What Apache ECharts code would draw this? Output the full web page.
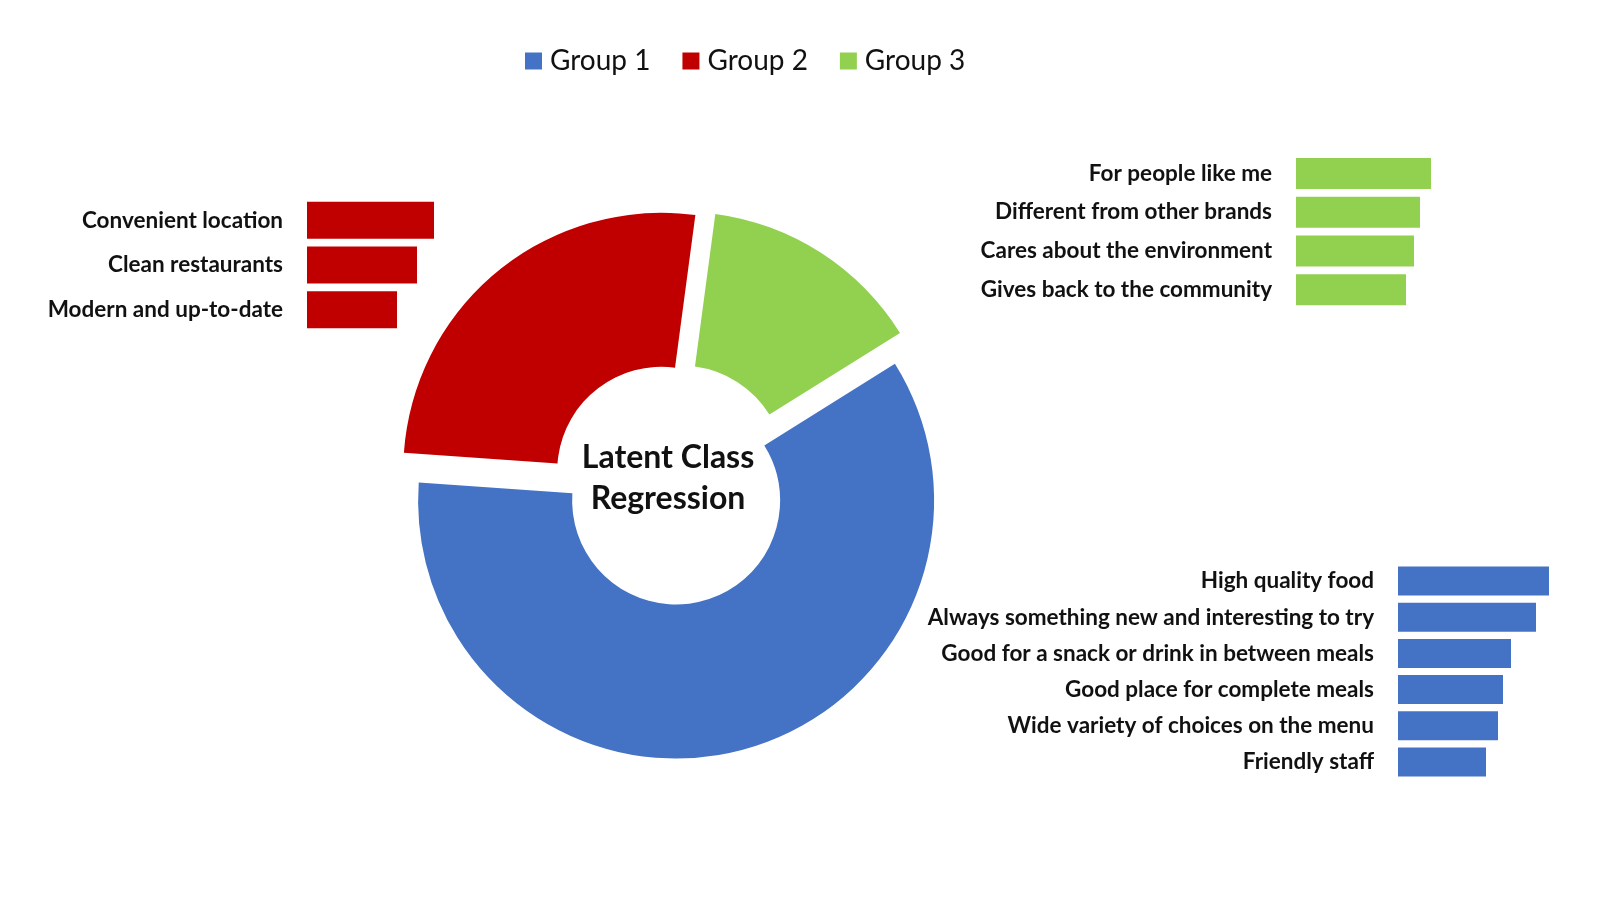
<!DOCTYPE html>
<html>
<head>
<meta charset="utf-8">
<title>Latent Class Regression</title>
<script src="https://cdn.jsdelivr.net/npm/echarts@6/dist/echarts.min.js"></script>
<style>
  html, body { margin: 0; padding: 0; background: #ffffff; }
  #chart { width: 1600px; height: 900px; }
</style>
</head>
<body>
<div id="chart"></div>
<script>
// 세그먼트 비율 (도넛)
var groupNames = ['Group 1', 'Group 2', 'Group 3'];
var groupShares = [60, 26, 14];
var groupColors = ['#4472C4', '#C00000', '#92D050'];

// 그룹별 속성 막대
var group1Items = [
  'High quality food',
  'Always something new and interesting to try',
  'Good for a snack or drink in between meals',
  'Good place for complete meals',
  'Wide variety of choices on the menu',
  'Friendly staff'
];
var group1Values = [15.1, 13.8, 11.3, 10.5, 10.0, 8.8];

var group2Items = ['Convenient location', 'Clean restaurants', 'Modern and up-to-date'];
var group2Values = [12.7, 11.0, 9.0];

var group3Items = [
  'For people like me',
  'Different from other brands',
  'Cares about the environment',
  'Gives back to the community'
];
var group3Values = [13.5, 12.4, 11.8, 11.0];

var labelFont = 'Lato';

var myChart = echarts.init(document.getElementById('chart'));

// 작은 막대차트용 축 생성
var makeXAxis = function(idx) {
  return {
    type: 'value', gridIndex: idx, min: 0, max: 16,
    show: false
  };
};
var makeYAxis = function(idx, items) {
  return {
    type: 'category', gridIndex: idx, data: items, inverse: true,
    axisLine: { show: false },
    axisTick: { show: false },
    splitLine: { show: false },
    axisLabel: {
      margin: 24,
      color: '#111111',
      fontFamily: labelFont,
      fontWeight: 'bold',
      fontSize: 22.5
    }
  };
};
var makeBars = function(idx, values, color, width) {
  return {
    type: 'bar', xAxisIndex: idx, yAxisIndex: idx,
    data: values, barWidth: width, silent: true,
    itemStyle: { color: color }
  };
};

var pieData = groupNames.map(function(name, i) {
  return { name: name, value: groupShares[i], selected: true, itemStyle: { color: groupColors[i] } };
});

var option = {
  animation: false,
  backgroundColor: '#ffffff',
  legend: {
    data: groupNames,
    selectedMode: false,
    icon: 'rect',
    itemWidth: 17,
    itemHeight: 17,
    itemGap: 32,
    left: 525,
    top: 44,
    padding: 0,
    textStyle: {
      fontFamily: labelFont,
      fontSize: 28,
      color: '#111111',
      lineHeight: 34,
      padding: [0, 0, 0, 3]
    }
  },
  graphic: [{
    type: 'text',
    x: 668,
    y: 478,
    silent: true,
    style: {
      text: 'Latent Class\nRegression',
      align: 'center',
      verticalAlign: 'middle',
      textAlign: 'center',
      textVerticalAlign: 'middle',
      fill: '#111111',
      font: 'bold 32px Lato',
      lineHeight: 41
    }
  }],
  grid: [
    { left: 1398, top: 563, width: 160, height: 217 }, // Group 1
    { left: 307, top: 198, width: 160, height: 134 },  // Group 2
    { left: 1296, top: 154, width: 160, height: 155 }  // Group 3
  ],
  xAxis: [makeXAxis(0), makeXAxis(1), makeXAxis(2)],
  yAxis: [
    makeYAxis(0, group1Items),
    makeYAxis(1, group2Items),
    makeYAxis(2, group3Items)
  ],
  series: [
    {
      type: 'pie',
      center: [672, 484],
      radius: [104, 258],
      startAngle: 32,
      clockwise: true,
      selectedMode: 'multiple',
      selectedOffset: 17,
      silent: true,
      label: { show: false },
      labelLine: { show: false },
      itemStyle: { borderWidth: 0 },
      data: pieData
    },
    makeBars(0, group1Values, groupColors[0], 29),
    makeBars(1, group2Values, groupColors[1], 37),
    makeBars(2, group3Values, groupColors[2], 31)
  ]
};

myChart.setOption(option);
</script>
</body>
</html>
